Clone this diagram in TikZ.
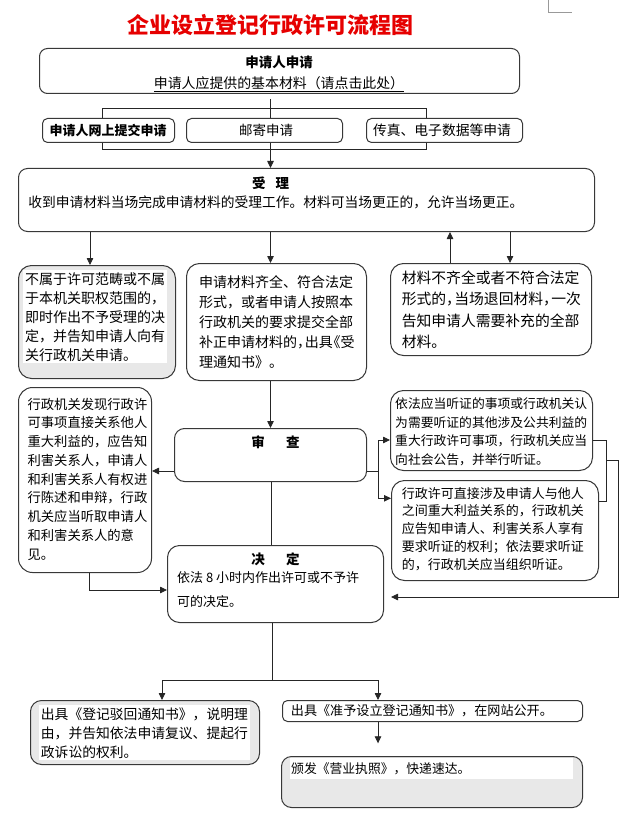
\documentclass[tikz,border=0pt]{standalone}
\usepackage{fontspec}
\setmainfont{Noto Sans CJK SC}
\usetikzlibrary{arrows.meta}
\newcommand\fsz[2]{\fontsize{#1pt}{#2pt}\selectfont}
\newcommand\hc{，\kern-0.45em}
\newcommand\hb{\kern-0.45em《}
\definecolor{ttlred}{RGB}{230,0,0}
\definecolor{lgray}{RGB}{232,232,232}
\begin{document}
\begin{tikzpicture}[x=1pt,y=-1pt,
  bx/.style={draw=black!78, line width=1pt, rounded corners=#1, fill=white, inner sep=0pt, anchor=north west},
  bx/.default=9pt,
  gbx/.style={bx=#1, fill=lgray},
  gbx/.default=12pt,
  txt/.style={anchor=north west, inner sep=0pt, align=left},
  ctr/.style={anchor=center, inner sep=0pt},
  ln/.style={line width=0.8pt, draw=black!85},
  arr/.style={ln, -{Triangle[length=7pt,width=6.5pt]}},
]
\fill[white] (0,0) rectangle (631,834);
\useasboundingbox (0,0) rectangle (631,834);

% page corner mark
\draw[black!40, line width=0.6pt] (548.3,0) -- (548.3,12.3) -- (571.7,12.3);

% title
\node[ctr, font=\fsz{22}{26}\bfseries, text=ttlred] (title) at (270.6,25) {企业设立登记行政许可流程图};

% bracket behind the three submission boxes
\coordinate (brA) at (102.6,108);
\coordinate (brB) at (426.6,149);
\draw[ln] (brA) rectangle (brB);

% box 1
\node[bx=8pt, minimum width=480pt, minimum height=45pt] (b1) at (39,48) {};
\node[ctr, font=\fsz{13.5}{16}\bfseries] (b1t) at (279,62) {申请人申请};
\node[ctr, font=\fsz{13.9}{16}] (b1s) at (279,84.5) {\underline{申请人应提供的基本材料（请点击此处）}};

% submission boxes
\node[bx=5pt, minimum width=132pt, minimum height=24pt] (bw) at (42,118) {};
\node[ctr, font=\fsz{13}{15}\bfseries] (bwt) at (108,130) {申请人网上提交申请};
\node[bx=5pt, minimum width=156pt, minimum height=24pt] (bm) at (186,118) {};
\node[ctr, font=\fsz{13.5}{15}] (bmt) at (266,130) {邮寄申请};
\node[bx=5pt, minimum width=156pt, minimum height=24pt] (bf) at (366,118) {};
\node[ctr, font=\fsz{13.8}{15}] (bft) at (442,130) {传真、电子数据等申请};

% accept box
\node[bx=9pt, minimum width=576pt, minimum height=63pt] (sl) at (18,168) {};
\node[ctr, font=\fsz{13.5}{16}\bfseries] (slt) at (270.6,183) {受\hspace{10pt}理};
\node[txt, font=\fsz{13.75}{16}] (slb) at (28.2,195.4) {收到申请材料当场完成申请材料的受理工作。材料可当场更正的，允许当场更正。};

% three result boxes
\node[gbx=13pt, minimum width=157pt, minimum height=113pt] (nl) at (18,265) {};
\fill[white] (23,270) rectangle (167,363);
\node[txt, font=\fsz{14}{19}] (nlt) at (25,272.3) {不属于许可范畴或不属\\于本机关职权范围的，\\即时作出不予受理的决\\定，并告知申请人向有\\关行政机关申请。};

\node[bx=13pt, minimum width=180pt, minimum height=117pt] (nm) at (186,263) {};
\node[txt, font=\fsz{14}{20}] (nmt) at (199,275.3) {申请材料齐全、符合法定\\形式，或者申请人按照本\\行政机关的要求提交全部\\补正申请材料的\hc 出具\hb 受\\理通知书》。};

\node[bx=13pt, minimum width=201pt, minimum height=92pt] (nr) at (390,263) {};
\node[txt, font=\fsz{14.8}{21.3}] (nrt) at (401.6,270.9) {材料不齐全或者不符合法定\\形式的\hc 当场退回材料\hc 一次\\告知申请人需要补充的全部\\材料。};

% review
\node[bx=10pt, minimum width=192pt, minimum height=53pt] (sc) at (174,428) {};
\node[ctr, font=\fsz{13.5}{16}\bfseries] (sct) at (275.5,442) {审\hspace{21.5pt}查};

\node[bx=14pt, minimum width=133pt, minimum height=185pt] (lb) at (18,387) {};
\node[txt, font=\fsz{13.3}{18.75}] (lbt) at (27.4,397.6) {行政机关发现行政许\\可事项直接关系他人\\重大利益的，应告知\\利害关系人，申请人\\和利害关系人有权进\\行陈述和申辩，行政\\机关应当听取申请人\\和利害关系人的意\\见。};

\node[bx=13pt, minimum width=202pt, minimum height=80pt] (rt) at (390,390) {};
\node[txt, font=\fsz{12.8}{18.5}] (rtt) at (395,397.9) {依法应当听证的事项或行政机关认\\为需要听证的其他涉及公共利益的\\重大行政许可事项，行政机关应当\\向社会公告，并举行听证。};

\node[bx=13pt, minimum width=207pt, minimum height=100pt] (rb) at (391,480) {};
\node[txt, font=\fsz{13}{17.7}] (rbt) at (401.7,487.1) {行政许可直接涉及申请人与他人\\之间重大利益关系的，行政机关\\应告知申请人、利害关系人享有\\要求听证的权利；依法要求听证\\的，行政机关应当组织听证。};

% decision
\node[bx=12pt, minimum width=216pt, minimum height=77pt] (jd) at (167,545) {};
\node[ctr, font=\fsz{13.5}{16}\bfseries] (jdt) at (275.5,559) {决\hspace{21.5pt}定};
\node[txt, font=\fsz{13}{24}] (jdb) at (177,571.8) {依法 8 小时内作出许可或不予许\\可的决定。};

% bottom boxes
\node[gbx=11pt, minimum width=229pt, minimum height=64pt] (bl) at (30,700) {};
\fill[white] (39.3,705) rectangle (250,760);
\node[txt, font=\fsz{13.8}{19.3}] (blt) at (40.7,707.4) {出具《登记驳回通知书》，说明理\\由，并告知依法申请复议、提起行\\政诉讼的权利。};

\node[bx=5pt, minimum width=300pt, minimum height=21pt] (bq) at (282,700) {};
\node[txt, font=\fsz{13.1}{16}] (bqt) at (290.7,704.4) {出具《准予设立登记通知书》，在网站公开。};

\node[gbx=10pt, minimum width=301pt, minimum height=51pt] (bz) at (281,756) {};
\fill[white] (290,758) rectangle (572.7,779);
\node[txt, font=\fsz{12.8}{16}] (bzt) at (291,762.9) {颁发《营业执照》，快递速达。};

% connectors top
\draw[ln, shorten <=5pt] (b1.south -| 270.5,0) -- (bm.north -| 270.5,0);
\draw[arr] (bm.south -| 270.5,0) -- (sl.north -| 270.5,0);
\draw[arr] (sl.south -| 90,0) -- (nl.north -| 90,0);
\draw[arr] (sl.south -| 270.5,0) -- (nm.north -| 270.5,0);
\draw[arr] (sl.south -| 510,0) -- (nr.north -| 510,0);
\draw[arr] (nr.north -| 450,0) -- (sl.south -| 450,0);

% to review
\draw[arr] (nm.south -| 270.5,0) -- (sc.north -| 270.5,0);
\draw[arr] (sc.west |- 0,471) -- (lb.east |- 0,471);
\draw[arr] (lb.south -| 89.3,0) |- (jd.west |- 0,590);
\draw[ln] (sc.south -| 271,0) -- (jd.north -| 271,0);

\coordinate (jn) at (378.3,471);
\draw[ln] (sc.east |- jn) -- (jn);
\draw[arr] (jn) |- (rt.west |- 0,440);
\draw[arr] (jn) |- (rb.west |- 0,498.3);

\coordinate (bk) at (606,460);
\draw[ln] (rt.east |- 0,440) -| (bk) |- (rb.east |- 0,501.7);
\draw[ln] (rt.east |- 0,440) -| (606,501.7);
\draw[arr, shorten >=7pt] (bk) -- (618,460) |- (jd.east |- 0,597);

% decision to outcomes
\coordinate (sp) at (272.7,680);
\draw[ln] (jd.south -| sp) -- (sp);
\draw[arr] (sp) -| (bl.north -| 162,0);
\draw[arr] (sp) -| (bq.north -| 378,0);
\coordinate (ae) at (378,743.3);
\draw[arr] (bq.south -| ae) -- (ae);
\end{tikzpicture}
\end{document}
